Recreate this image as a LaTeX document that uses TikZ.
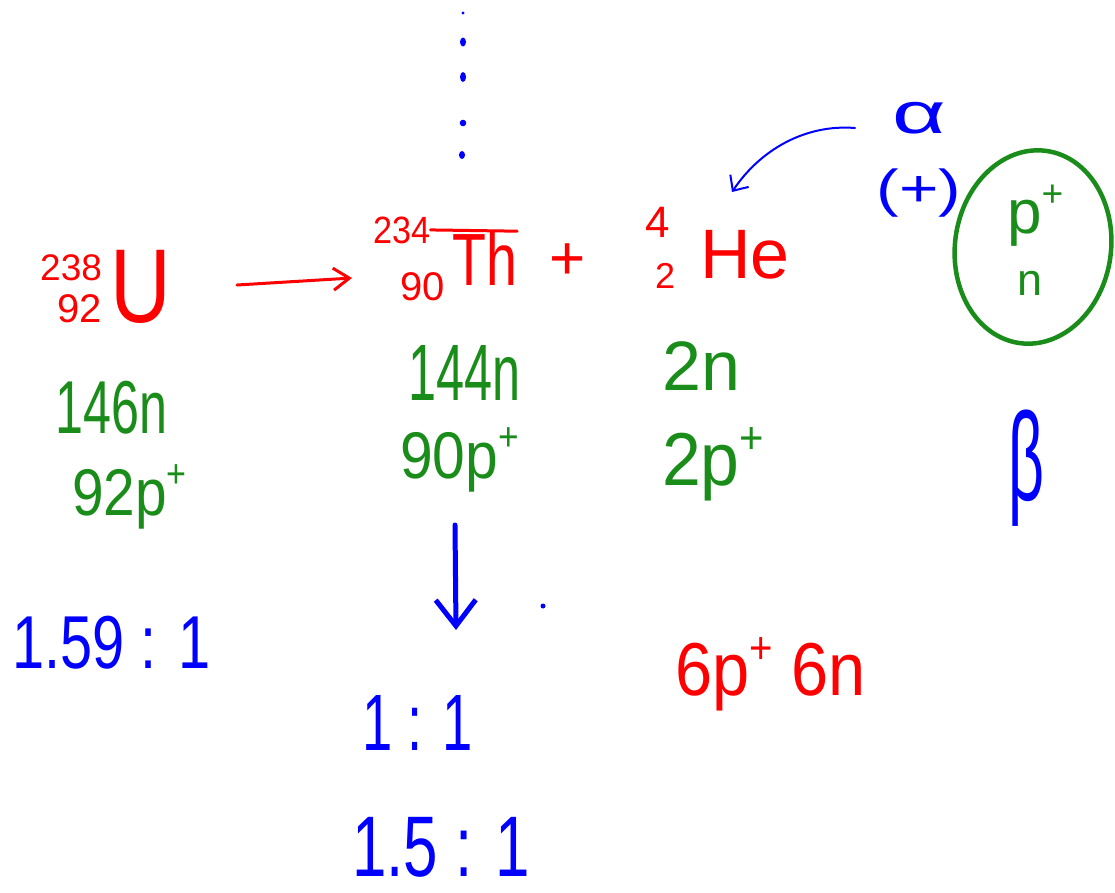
\documentclass[tikz,border=0pt]{standalone}
\usepackage{fontspec}
\setmainfont{Liberation Sans}
\usetikzlibrary{arrows.meta}
\definecolor{hred}{RGB}{255,0,0}
\definecolor{hgreen}{RGB}{25,140,25}
\definecolor{hblue}{RGB}{0,0,255}
\newcommand\fsz[1]{\fontsize{#1}{#1}\selectfont}
\newcommand\hx[2]{\scalebox{#1}[1]{#2}}
\newcommand\pplus{\raisebox{0.42em}{\scalebox{0.6}{+}}}
\begin{document}
\begin{tikzpicture}[x=1pt,y=1pt,
  lbl/.style={inner sep=0pt, anchor=base west},
  rl/.style={lbl,text=hred},
  gl/.style={lbl,text=hgreen},
  bl/.style={lbl,text=hblue},
  pen/.style={line width=3pt, line cap=round, line join=round}]
\useasboundingbox (0,-892) rectangle (1115,0);

% vertical dots
\fill[hblue] (463,-13) circle (1.6);
\fill[hblue] (463,-42) ellipse [x radius=3, y radius=4.5];
\fill[hblue] (463,-77) ellipse [x radius=3, y radius=5];
\fill[hblue] (463,-123) circle (3.3);
\fill[hblue] (462,-155) ellipse [x radius=3, y radius=4];

% Uranium
\node[rl,font=\fsz{37}] (uA) at (40,-280) {238};
\node[rl,font=\fsz{40}] (uZ) at (57,-322) {92};
\node[rl,font=\fsz{105}] (U) at (110,-322) {\hx{0.8}{U}};
\coordinate (a1s) at (237,-285);
\coordinate (a1e) at (352,-278);
\draw[pen,hred,-{Straight Barb[length=16pt,width=22pt]}] (a1s) -- (a1e);

% Thorium
\node[rl,font=\fsz{38}] (thA) at (373,-243) {\hx{0.9}{234}};
\node[rl,font=\fsz{40}] (thZ) at (400,-300) {90};
\node[rl,font=\fsz{74}] (Th) at (452,-285) {\hx{0.75}{Th}};
\draw[pen,hred] (thA.east) -- (Th.north east);
\node[text=hred,inner sep=0pt,font=\fsz{62}] (plus) at (568,-262) {+};

% Helium
\node[rl,font=\fsz{44}] (heA) at (645,-237) {4};
\node[rl,font=\fsz{36}] (heZ) at (655,-288) {2};
\node[rl,font=\fsz{70}] (He) at (700,-278) {He};

% alpha, charge, nucleus
\node[text=hblue,inner sep=0pt,font=\fsz{58}] (alpha) at (919,-118) {\hx{1.6}{α}};
\coordinate (c1s) at (855,-128);
\coordinate (c1e) at (732,-192);
\draw[pen,line width=2pt,hblue,-{Straight Barb[length=12pt,width=22pt]}]
  (c1s) .. controls (805,-124) and (760,-150) .. (c1e);
\node[text=hblue,inner sep=0pt,font=\fsz{52}] (charge) at (919,-193) {\hx{1.3}{(+)}};
\draw[hgreen,line width=4.5pt,rotate around={-8:(1033,-247)}]
  (1033,-247) ellipse [x radius=78, y radius=97];
\node[gl,font=\fsz{62}] (pin) at (1007,-233) {p\pplus};
\node[gl,font=\fsz{45}] (nin) at (1017,-295) {n};

% beta
\node[bl,font=\fsz{125}] (beta) at (1008,-500) {\hx{0.5}{β}};

% nucleon counts
\node[gl,font=\fsz{75}] (u146) at (55,-433) {\hx{0.67}{146n}};
\node[gl,font=\fsz{66}] (u92) at (72,-515) {\hx{0.86}{92p\pplus}};
\node[gl,font=\fsz{80}] (th144) at (408,-400) {\hx{0.63}{144n}};
\node[gl,font=\fsz{66}] (th90) at (400,-478) {\hx{0.89}{90p\pplus}};
\node[gl,font=\fsz{70}] (he2n) at (662,-390) {2n};
\node[gl,font=\fsz{75}] (he2p) at (662,-485) {\hx{0.93}{2p\pplus}};

% down arrow and dot
\coordinate (d1s) at (455,-525);
\coordinate (d1e) at (456,-630);
\draw[pen,line width=5pt,hblue,-{Straight Barb[length=26pt,width=40pt,line width=5pt]}] (d1s) -- (d1e);
\fill[hblue] (543,-606) circle (2.5);

% ratios
\node[bl,font=\fsz{75}] (r1) at (12,-668) {\hx{0.77}{1.59 : 1}};
\node[bl,font=\fsz{80}] (r2) at (362,-750) {\hx{0.68}{1 : 1}};
\node[bl,font=\fsz{86}] (r3) at (352,-876) {\hx{0.72}{1.5 : 1}};

% carbon-like count
\node[rl,font=\fsz{75}] (c6) at (675,-695) {\hx{0.89}{6p\pplus{} 6n}};
\end{tikzpicture}
\end{document}
